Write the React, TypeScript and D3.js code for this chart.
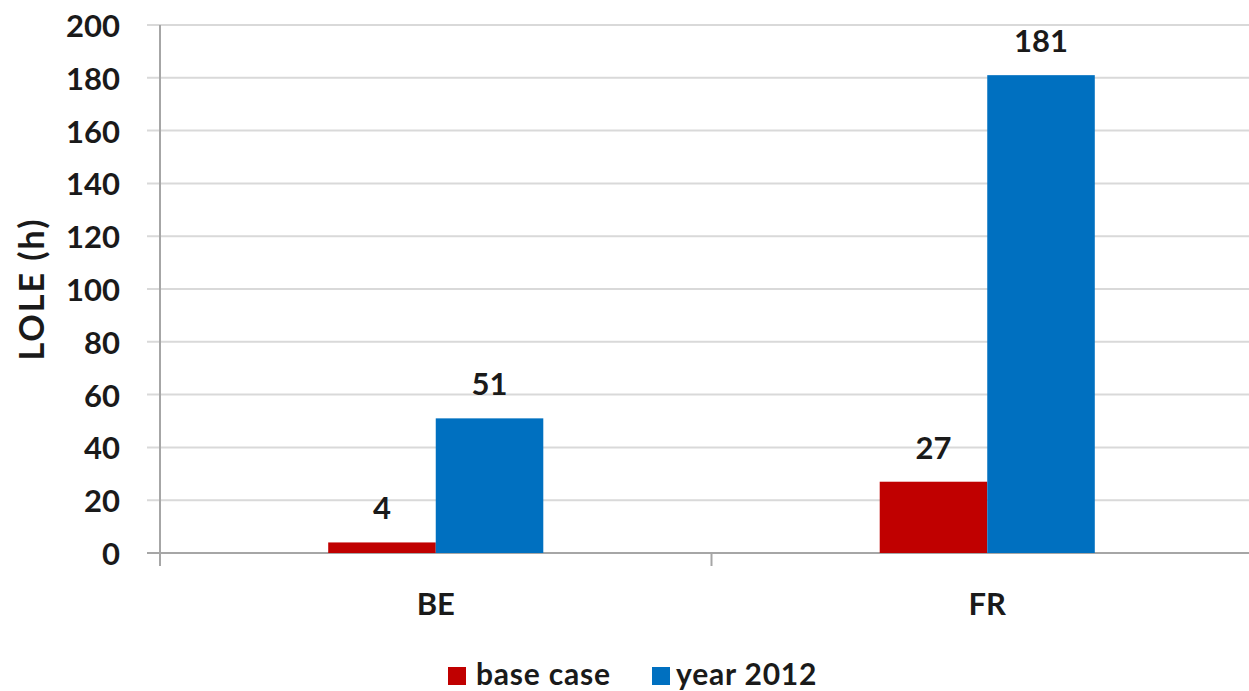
import * as d3 from "d3";
import React from "react";

const categories = ["BE", "FR"];
const seriesNames = ["base case", "year 2012"];
const baseCase = [4, 27];
const year2012 = [51, 181];
const yTicks = [0, 20, 40, 60, 80, 100, 120, 140, 160, 180, 200];
const colors = ["#C00000", "#0070C0"];

const width = 1249;
const height = 691;
const margin = { top: 25, right: -14, bottom: 138, left: 160 };
const font = "Lato, 'Open Sans', sans-serif";

const App = () => {
    const plotW = width - margin.left - margin.right;
    const plotH = height - margin.top - margin.bottom;

    const x = d3.scaleBand().domain(categories).range([0, plotW]);
    const inner = d3.scaleBand().domain(seriesNames).range([0, x.bandwidth() * 0.39]);
    const y = d3.scaleLinear().domain([0, 200]).range([plotH, 0]);
    const values = [baseCase, year2012];
    const groupOffset = (x.bandwidth() - inner.range()[1]) / 2;

    return (
        <svg width={width} height={height} style={{ position: "absolute", left: 0, top: 0, background: "#fff" }}>
            <g transform={`translate(${margin.left},${margin.top})`}>
                {/* gridlines */}
                {yTicks.map(t => (
                    <line key={t} x1={-13} x2={plotW} y1={y(t)} y2={y(t)}
                        stroke={t === 0 ? "#a6a6a6" : "#d9d9d9"} strokeWidth={2} />
                ))}
                <line x1={0} x2={0} y1={0} y2={plotH + 13} stroke="#a6a6a6" strokeWidth={2} />
                {categories.map(c => (
                    <line key={c} x1={x(c)!} x2={x(c)!} y1={plotH} y2={plotH + 13}
                        stroke="#a6a6a6" strokeWidth={2} />
                ))}

                {/* y tick labels */}
                {yTicks.map(t => (
                    <text key={t} x={-40} y={y(t)} textAnchor="end" dominantBaseline="central"
                        fontFamily={font} fontWeight={700} fontSize={31} fill="#1a1a1a">{t}</text>
                ))}

                {/* bars */}
                {categories.map((c, i) => (
                    <g key={c} transform={`translate(${x(c)! + groupOffset},0)`}>
                        {seriesNames.map((s, j) => (
                            <g key={s}>
                                <rect x={inner(s)} y={y(values[j][i])} width={inner.bandwidth()}
                                    height={plotH - y(values[j][i])} fill={colors[j]} />
                                <text x={inner(s)! + inner.bandwidth() / 2} y={y(values[j][i]) - 35}
                                    textAnchor="middle" dominantBaseline="central"
                                    fontFamily={font} fontWeight={700} fontSize={31} fill="#1a1a1a">
                                    {values[j][i]}
                                </text>
                            </g>
                        ))}
                    </g>
                ))}

                {/* category labels */}
                {categories.map(c => (
                    <text key={c} x={x(c)! + x.bandwidth() / 2} y={plotH + 50} textAnchor="middle"
                        dominantBaseline="central" fontFamily={font} fontWeight={700} fontSize={31} fill="#1a1a1a">
                        {c}
                    </text>
                ))}
            </g>

            {/* y axis title */}
            <text transform={`translate(30,289) rotate(-90)`} textAnchor="middle" dominantBaseline="central"
                fontFamily={font} fontWeight={700} fontSize={34} letterSpacing={2} fill="#1a1a1a">LOLE (h)</text>

            {/* legend */}
            <g transform="translate(448,673)">
                <rect x={0} y={-6} width={18} height={18} fill={colors[0]} />
                <text x={28} y={0} dominantBaseline="central" fontFamily={font} fontWeight={700}
                    fontSize={30} letterSpacing={0.8} fill="#1a1a1a">{seriesNames[0]}</text>
                <rect x={204} y={-6} width={18} height={18} fill={colors[1]} />
                <text x={228} y={0} dominantBaseline="central" fontFamily={font} fontWeight={700}
                    fontSize={30} letterSpacing={0.8} fill="#1a1a1a">{seriesNames[1]}</text>
            </g>
        </svg>
    );
};

export default App;
